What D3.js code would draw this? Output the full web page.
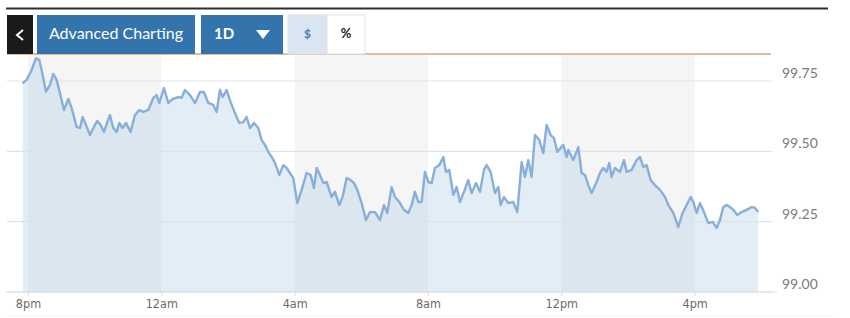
<!DOCTYPE html>
<html>
<head>
<meta charset="utf-8">
<script src="https://cdn.jsdelivr.net/npm/d3@7"></script>
<style>
  html, body { margin: 0; padding: 0; background: #fff; }
  svg { display: block; }
</style>
</head>
<body>
<svg id="chart" width="850" height="318"></svg>
<script>
// hours after 8pm
const hours = [-0.16, -0.04, 0.11, 0.24, 0.34, 0.41, 0.54, 0.66, 0.76, 0.86, 0.96, 1.08, 1.21, 1.31, 1.46, 1.56,
    1.64, 1.74, 1.86, 1.96, 2.08, 2.18, 2.28, 2.38, 2.46, 2.56, 2.66, 2.74, 2.84, 2.94, 3.08, 3.21, 3.34, 3.46,
    3.61, 3.76, 3.86, 3.94, 4.08, 4.21, 4.34, 4.51, 4.61, 4.71, 4.86, 5.01, 5.16, 5.28, 5.41, 5.56, 5.66, 5.76,
    5.84, 5.96, 6.08, 6.21, 6.34, 6.46, 6.56, 6.66, 6.78, 6.91, 7.01, 7.11, 7.21, 7.31, 7.41, 7.54, 7.66, 7.76,
    7.86, 7.96, 8.08, 8.21, 8.36, 8.48, 8.58, 8.66, 8.76, 8.86, 8.96, 9.11, 9.21, 9.34, 9.44, 9.56, 9.68, 9.78,
    9.88, 10.01, 10.14, 10.26, 10.41, 10.56, 10.68, 10.78, 10.91, 11.01, 11.14, 11.28, 11.41, 11.51, 11.61,
    11.71, 11.81, 11.91, 12.01, 12.11, 12.21, 12.34, 12.46, 12.54, 12.64, 12.76, 12.86, 12.96, 13.08, 13.21,
    13.31, 13.44, 13.56, 13.68, 13.76, 13.88, 14.01, 14.11, 14.18, 14.28, 14.41, 14.56, 14.68, 14.81, 14.91,
    15.01, 15.11, 15.21, 15.34, 15.46, 15.56, 15.68, 15.78, 15.88, 16.06, 16.16, 16.21, 16.36, 16.51, 16.61,
    16.71, 16.81, 16.91, 17.06, 17.16, 17.26, 17.36, 17.44, 17.51, 17.61, 17.76, 17.88, 17.96, 18.11, 18.26,
    18.36, 18.46, 18.56, 18.68, 18.81, 18.96, 19.11, 19.21, 19.36, 19.51, 19.64, 19.76, 19.88, 19.96, 20.06,
    20.16, 20.28, 20.41, 20.54, 20.66, 20.76, 20.86, 20.96, 21.06, 21.16, 21.28, 21.41, 21.56, 21.71, 21.81, 21.91];

const prices = [99.742, 99.754, 99.789, 99.831, 99.825, 99.789, 99.712, 99.736, 99.775, 99.754, 99.707, 99.647,
    99.686, 99.654, 99.587, 99.583, 99.622, 99.594, 99.558, 99.583, 99.608, 99.594, 99.569, 99.604, 99.629,
    99.583, 99.569, 99.601, 99.583, 99.601, 99.569, 99.629, 99.647, 99.640, 99.647, 99.690, 99.700, 99.672,
    99.725, 99.672, 99.686, 99.693, 99.690, 99.718, 99.700, 99.672, 99.711, 99.711, 99.672, 99.665, 99.640,
    99.718, 99.693, 99.718, 99.675, 99.636, 99.601, 99.604, 99.622, 99.583, 99.601, 99.583, 99.540, 99.523,
    99.498, 99.480, 99.459, 99.416, 99.451, 99.441, 99.423, 99.405, 99.316, 99.363, 99.423, 99.416, 99.370,
    99.441, 99.416, 99.387, 99.391, 99.338, 99.356, 99.309, 99.338, 99.405, 99.398, 99.387, 99.363, 99.316,
    99.256, 99.284, 99.284, 99.256, 99.309, 99.281, 99.373, 99.338, 99.320, 99.292, 99.281, 99.309, 99.356,
    99.320, 99.320, 99.427, 99.391, 99.387, 99.441, 99.451, 99.480, 99.427, 99.434, 99.345, 99.373, 99.320,
    99.356, 99.398, 99.352, 99.387, 99.356, 99.434, 99.451, 99.427, 99.352, 99.373, 99.309, 99.338, 99.316,
    99.320, 99.284, 99.462, 99.409, 99.469, 99.409, 99.558, 99.540, 99.494, 99.594, 99.558, 99.547, 99.498,
    99.523, 99.480, 99.505, 99.469, 99.515, 99.423, 99.416, 99.380, 99.352, 99.391, 99.423, 99.441, 99.427,
    99.459, 99.409, 99.441, 99.427, 99.469, 99.427, 99.434, 99.469, 99.480, 99.444, 99.451, 99.398, 99.380,
    99.363, 99.338, 99.309, 99.281, 99.231, 99.281, 99.309, 99.338, 99.320, 99.281, 99.316, 99.284, 99.245,
    99.249, 99.228, 99.256, 99.302, 99.309, 99.302, 99.292, 99.274, 99.284, 99.292, 99.302, 99.299, 99.284];

const priceTicks = [99.00, 99.25, 99.50, 99.75];
const prevClose = 99.846;
const toolbarLabels = ['Advanced Charting', '1D', '$', '%'];

const svg = d3.select('#chart');
const base = new Date(2020, 0, 1, 20, 0);
const hourAt = h => new Date(base.getTime() + h * 3600 * 1000);
const data = hours.map((h, i) => ({ t: hourAt(h), v: prices[i] }));

const x = d3.scaleTime()
    .domain([hourAt(-1 / 6), hourAt(22)])
    .range([22.4, 761.3]);
const y = d3.scaleLinear()
    .domain([99, 99.75])
    .range([292, 81]);

const plotTop = 55;
const plotBottom = y(99);
const plotLeft = x.range()[0];
const plotRight = x(data[data.length - 1].t);

// bands in 20-24, 4-8, 12-16 are shaded
const bandEdges = d3.timeHour.every(4).range(hourAt(-4), hourAt(24));
const shaded = [];
bandEdges.forEach((d, i) => {
    const next = bandEdges[i + 1];
    if (!next) return;
    if (![20, 4, 12].includes(d.getHours())) return;
    const x0 = Math.max(plotLeft, x(d));
    const x1 = Math.min(plotRight, x(next));
    if (x1 > x0) shaded.push([x0, x1]);
});

svg.append('g')
    .selectAll('rect')
    .data(shaded)
    .enter().append('rect')
    .attr('x', d => d[0])
    .attr('y', plotTop)
    .attr('width', d => d[1] - d[0])
    .attr('height', plotBottom - plotTop)
    .attr('fill', '#f5f5f5');

// area + line
const area = d3.area()
    .x(d => x(d.t))
    .y0(plotBottom)
    .y1(d => y(d.v));
const line = d3.line()
    .x(d => x(d.t))
    .y(d => y(d.v));

svg.append('path')
    .datum(data)
    .attr('d', area)
    .attr('fill', 'rgba(165, 198, 226, 0.31)');

// gridlines
svg.append('g')
    .selectAll('line')
    .data(priceTicks)
    .enter().append('line')
    .attr('x1', 7)
    .attr('x2', 772)
    .attr('y1', d => y(d))
    .attr('y2', d => y(d))
    .attr('stroke', '#e0e3e6')
    .attr('stroke-width', 1.2);

svg.append('path')
    .datum(data)
    .attr('d', line)
    .attr('fill', 'none')
    .attr('stroke', '#88afd9')
    .attr('stroke-width', 2.4)
    .attr('stroke-linejoin', 'round');

// previous close
svg.append('line')
    .attr('x1', 7)
    .attr('x2', 771)
    .attr('y1', y(prevClose))
    .attr('y2', y(prevClose))
    .attr('stroke', '#d9a37c')
    .attr('stroke-width', 1.6);

// x axis
const xAxis = svg.append('g')
    .attr('transform', `translate(0,${plotBottom})`)
    .call(d3.axisBottom(x)
        .ticks(d3.timeHour.every(4))
        .tickSize(4)
        .tickPadding(3)
        .tickFormat(d => d3.timeFormat('%-I%p')(d).toLowerCase()));
xAxis.select('.domain').remove();
xAxis.selectAll('line').attr('stroke', '#dddddd');
xAxis.selectAll('text')
    .attr('fill', '#6b6b6b')
    .style('font-family', '"Liberation Sans Narrow", "DejaVu Sans Condensed", sans-serif')
    .style('font-size', '12.5px');
svg.append('line')
    .attr('x1', 6).attr('x2', 777)
    .attr('y1', plotBottom).attr('y2', plotBottom)
    .attr('stroke', '#dddddd').attr('stroke-width', 1.2);
svg.append('line')
    .attr('x1', 6).attr('x2', 833)
    .attr('y1', 316).attr('y2', 316)
    .attr('stroke', '#f0f0f0');

// y axis labels, sitting above their gridlines
const yAxis = svg.append('g')
    .attr('transform', 'translate(776,0)')
    .call(d3.axisRight(y)
        .tickValues(priceTicks)
        .tickSize(0)
        .tickPadding(6)
        .tickFormat(d3.format('.2f')));
yAxis.select('.domain').remove();
yAxis.selectAll('text')
    .attr('y', -8)
    .attr('fill', '#7a7a7a')
    .style('font-family', 'Lato, sans-serif')
    .style('font-size', '14px');

// top rule
svg.append('line')
    .attr('x1', 6).attr('x2', 828)
    .attr('y1', 8.5).attr('y2', 8.5)
    .attr('stroke', '#2e2e2e').attr('stroke-width', 2);

// toolbar
const bar = svg.append('g');
bar.append('rect').attr('x', 7).attr('y', 15).attr('width', 26).attr('height', 39).attr('fill', '#1b1a1a');
bar.append('path').attr('d', 'M23,30 L17,35 L23,40').attr('fill', 'none')
    .attr('stroke', '#fff').attr('stroke-width', 2);

const buttons = [
    { x: 37, w: 158, fill: '#3374ac', color: '#fff', weight: 400, size: 16 },
    { x: 201, w: 82, fill: '#3374ac', color: '#fff', weight: 700, size: 15 },
    { x: 288, w: 39, fill: '#d9e5f0', color: '#3e7eb8', weight: 700, size: 12 },
    { x: 327, w: 38, fill: '#ffffff', color: '#222', weight: 700, size: 13 }
];
buttons.forEach((b, i) => {
    bar.append('rect')
        .attr('x', b.x).attr('y', 15).attr('width', b.w).attr('height', 39)
        .attr('fill', b.fill)
        .attr('stroke', i > 1 ? '#e3e3e3' : 'none');
    bar.append('text')
        .attr('x', i === 1 ? b.x + 13 : b.x + b.w / 2)
        .attr('y', 35)
        .attr('text-anchor', i === 1 ? 'start' : 'middle')
        .attr('dominant-baseline', 'middle')
        .attr('fill', b.color)
        .style('font-family', 'Lato, sans-serif')
        .style('font-weight', b.weight)
        .style('font-size', b.size + 'px')
        .text(toolbarLabels[i]);
});
bar.append('path').attr('d', 'M256,30 L270,30 L263,39 Z').attr('fill', '#fff');
</script>
</body>
</html>
